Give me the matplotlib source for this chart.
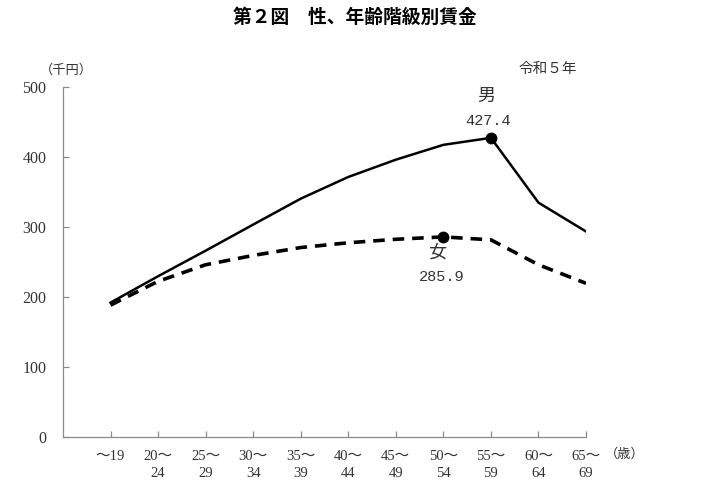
import matplotlib

matplotlib.use("Agg")
import matplotlib.pyplot as plt

# age groups (two-line tick labels) and monthly wages, 千円
AGE_LABELS = ["～19", "20～\n24", "25～\n29", "30～\n34", "35～\n39", "40～\n44",
              "45～\n49", "50～\n54", "55～\n59", "60～\n64", "65～\n69"]
MEN = [192.0, 229.7, 266.2, 303.5, 340.5, 371.5, 396.2, 417.4, 427.4, 334.8, 293.6]
WOMEN = [188.4, 222.4, 246.1, 259.4, 270.7, 277.5, 282.5, 285.9, 281.7, 246.1, 219.6]
Y_TICKS = [0, 100, 200, 300, 400, 500]

SERIF = ["Liberation Serif", "Noto Sans CJK JP"]
GOTHIC = ["Noto Sans CJK JP", "DejaVu Sans"]
MONO = ["Liberation Mono", "Noto Sans CJK JP"]
AXIS_GREY = "#8a8a8a"
TEXT = "#333333"

fig = plt.figure(figsize=(7.1, 5.01), dpi=100)
ax = fig.add_axes([0.0887, 0.1277, 0.7367, 0.6986])

xs = list(range(len(AGE_LABELS)))
ax.plot(xs, MEN, color="black", lw=1.8, solid_joinstyle="miter")
ax.plot(xs, WOMEN, color="black", lw=2.6, linestyle=(0, (3.2, 2.2)))

# peak markers
i_m = MEN.index(max(MEN))
i_w = WOMEN.index(max(WOMEN))
ax.plot(xs[i_m], MEN[i_m], "o", color="black", ms=7.5)
ax.plot(xs[i_w], WOMEN[i_w], "o", color="black", ms=7.5)

ax.text(xs[i_m] - 0.1, MEN[i_m] + 59, "男", family=SERIF, fontsize=13,
        ha="center", va="center", color=TEXT)
ax.text(xs[i_m] - 0.06, MEN[i_m] + 24, f"{MEN[i_m]:.1f}", family=MONO, fontsize=11,
        ha="center", va="center", color=TEXT)
ax.text(xs[i_w] - 0.13, WOMEN[i_w] - 23, "女", family=SERIF, fontsize=13,
        ha="center", va="center", color=TEXT)
ax.text(xs[i_w] - 0.03, WOMEN[i_w] - 57, f"{WOMEN[i_w]:.1f}", family=MONO, fontsize=11,
        ha="center", va="center", color=TEXT)

ax.set_xlim(-1, len(AGE_LABELS) - 1)
ax.set_ylim(0, 500)
ax.set_yticks(Y_TICKS)
ax.set_yticklabels([str(v) for v in Y_TICKS], family=SERIF, fontsize=11.5, color=TEXT)
ax.set_xticks(xs)
ax.set_xticklabels(AGE_LABELS, family=SERIF, fontsize=10.5, color=TEXT,
                   linespacing=1.45)
ax.tick_params(axis="y", direction="in", length=4, width=0.9, color=AXIS_GREY, pad=12)
ax.tick_params(axis="x", direction="in", length=4, width=0.9, color=AXIS_GREY, pad=9)

for side in ("top", "right"):
    ax.spines[side].set_visible(False)
for side in ("left", "bottom"):
    ax.spines[side].set_color(AXIS_GREY)
    ax.spines[side].set_linewidth(0.9)

fig.text(0.5, 0.966, "第２図　性、年齢階級別賃金", family=GOTHIC, fontsize=13.5,
         fontweight="bold", ha="center", va="center")
fig.text(0.772, 0.862, "令和５年", family=SERIF, fontsize=10.5, ha="center",
         va="center", color=TEXT)
fig.text(0.094, 0.860, "（千円）", family=SERIF, fontsize=9.5, ha="center",
         va="center", color=TEXT)
fig.text(0.880, 0.092, "（歳）", family=SERIF, fontsize=9.5, ha="center",
         va="center", color=TEXT)

fig.savefig("out.png", dpi=100)
